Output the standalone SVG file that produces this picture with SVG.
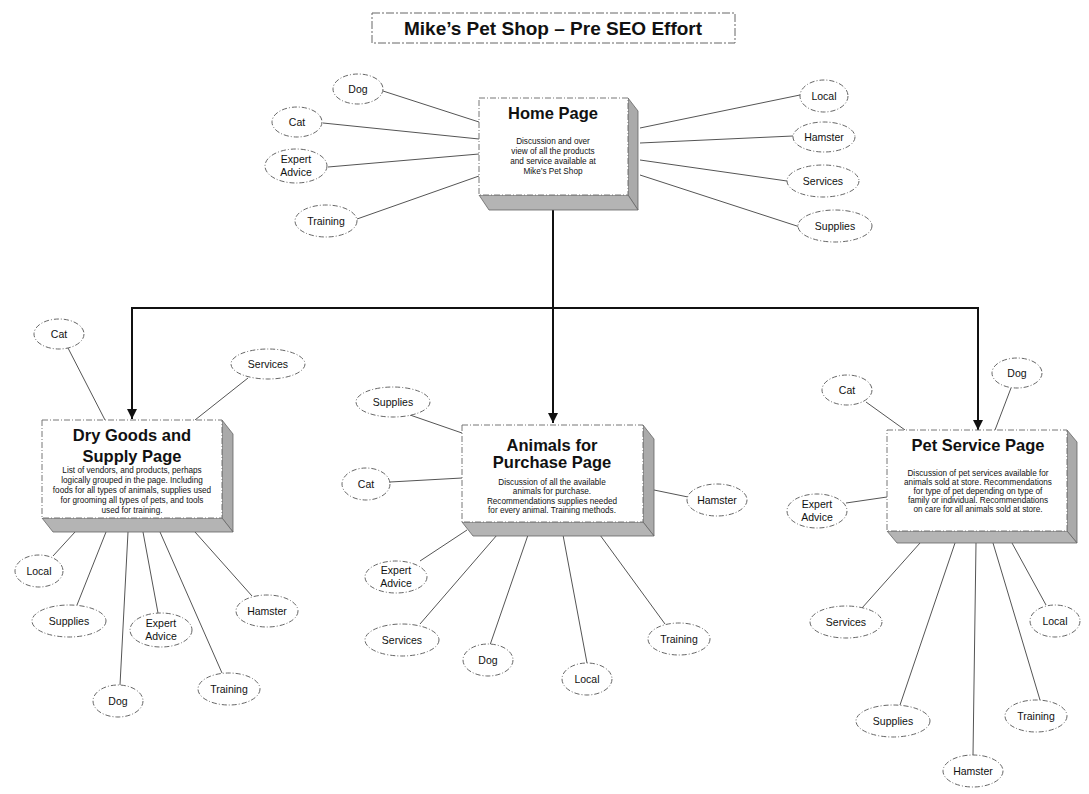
<svg xmlns="http://www.w3.org/2000/svg" width="1089" height="794" viewBox="0 0 1089 794">
<defs>
<marker id="arr" viewBox="0 0 10 10" refX="10" refY="5" markerWidth="5" markerHeight="5" orient="auto" markerUnits="strokeWidth">
<path d="M0,0 L10,5 L0,10 Z" fill="#111"/>
</marker>
</defs>
<style>
.ell{fill:#fff;stroke:#666;stroke-width:1;stroke-dasharray:5 2 1 2}
.lbl{font-family:"Liberation Sans",Arial,sans-serif;font-size:10.5px;fill:#111;text-anchor:middle}
.link{stroke:#555;stroke-width:1;fill:none}
.main{stroke:#111;stroke-width:2;fill:none}
.front{fill:#fff;stroke:#777;stroke-width:1;stroke-dasharray:6 2 1 2}
.side{fill:#aaa;stroke:#666;stroke-width:0.8}
.bot{fill:#b4b4b4;stroke:#666;stroke-width:0.8}
.ttl{font-family:"Liberation Sans",Arial,sans-serif;font-weight:bold;font-size:16.5px;fill:#111;text-anchor:middle}
.body{font-family:"Liberation Sans",Arial,sans-serif;font-size:8.2px;fill:#111;text-anchor:middle}
.head{font-family:"Liberation Sans",Arial,sans-serif;font-weight:bold;font-size:19px;fill:#111;text-anchor:middle}
</style>
<rect width="1089" height="794" fill="#fff"/>

<g id="title">
<rect x="372" y="13" width="363" height="30" fill="#fff" stroke="#666" stroke-width="1" stroke-dasharray="8 2 2 2"/>
<text class="head" x="553" y="35">Mike’s Pet Shop – Pre SEO Effort</text>
</g>

<g id="connectors">
<path class="main" d="M553,208 V423" marker-end="url(#arr)"/>
<path class="main" d="M132,308 H978"/>
<path class="main" d="M132,307 V419" marker-end="url(#arr)"/>
<path class="main" d="M978,307 V430" marker-end="url(#arr)"/>
<line class="link" x1="383" y1="91" x2="479" y2="122"/>
<line class="link" x1="323" y1="123" x2="479" y2="139"/>
<line class="link" x1="328" y1="167" x2="479" y2="154"/>
<line class="link" x1="357" y1="219" x2="479" y2="176"/>
<line class="link" x1="640" y1="128" x2="800" y2="95"/>
<line class="link" x1="640" y1="143" x2="793" y2="136"/>
<line class="link" x1="640" y1="160" x2="787" y2="181"/>
<line class="link" x1="640" y1="175" x2="800" y2="227"/>
<line class="link" x1="68" y1="348" x2="105" y2="420"/>
<line class="link" x1="248" y1="378" x2="195" y2="420"/>
<line class="link" x1="75" y1="532" x2="53" y2="556"/>
<line class="link" x1="106" y1="532" x2="77" y2="605"/>
<line class="link" x1="128" y1="532" x2="120" y2="685"/>
<line class="link" x1="143" y1="532" x2="158" y2="613"/>
<line class="link" x1="160" y1="532" x2="222" y2="673"/>
<line class="link" x1="195" y1="532" x2="252" y2="596"/>
<line class="link" x1="410" y1="415" x2="462" y2="433"/>
<line class="link" x1="390" y1="482" x2="462" y2="478"/>
<line class="link" x1="654" y1="490" x2="688" y2="497"/>
<line class="link" x1="467" y1="530" x2="420" y2="561"/>
<line class="link" x1="497" y1="535" x2="420" y2="624"/>
<line class="link" x1="528" y1="535" x2="490" y2="645"/>
<line class="link" x1="563" y1="535" x2="587" y2="663"/>
<line class="link" x1="600" y1="535" x2="665" y2="624"/>
<line class="link" x1="866" y1="402" x2="905" y2="430"/>
<line class="link" x1="1011" y1="388" x2="995" y2="430"/>
<line class="link" x1="846" y1="503" x2="887" y2="497"/>
<line class="link" x1="920" y1="543" x2="862" y2="608"/>
<line class="link" x1="955" y1="543" x2="900" y2="705"/>
<line class="link" x1="976" y1="543" x2="973" y2="755"/>
<line class="link" x1="993" y1="543" x2="1040" y2="700"/>
<line class="link" x1="1012" y1="543" x2="1046" y2="605"/>
</g>

<g id="home-page">
<polygon class="side" points="628,98 638,111 638,210 628,195"/>
<polygon class="bot" points="479,195 628,195 638,210 489,210"/>
<rect class="front" x="479" y="98" width="149" height="97"/>
<text class="ttl" x="553" y="119">Home Page</text>
<text class="body" x="553" y="144">Discussion and over</text>
<text class="body" x="553" y="154">view of all the products</text>
<text class="body" x="553" y="164">and service available at</text>
<text class="body" x="553" y="174">Mike’s Pet Shop</text>
</g>

<g id="dry-goods-page">
<polygon class="side" points="222,420 233,434 233,532 222,518"/>
<polygon class="bot" points="42,518 222,518 233,532 53,532"/>
<rect class="front" x="42" y="420" width="180" height="98"/>
<text class="ttl" x="132" y="441">Dry Goods and</text>
<text class="ttl" x="132" y="462">Supply Page</text>
<text class="body" x="132" y="473">List of vendors, and products, perhaps</text>
<text class="body" x="132" y="483">logically grouped in the page. Including</text>
<text class="body" x="132" y="493">foods for all types of animals, supplies used</text>
<text class="body" x="132" y="503">for grooming all types of pets, and tools</text>
<text class="body" x="132" y="513">used for training.</text>
</g>

<g id="animals-page">
<polygon class="side" points="643,425 654,439 654,536 643,522"/>
<polygon class="bot" points="462,522 643,522 654,536 473,536"/>
<rect class="front" x="462" y="425" width="181" height="97"/>
<text class="ttl" x="552" y="451">Animals for</text>
<text class="ttl" x="552" y="468">Purchase Page</text>
<text class="body" x="552" y="485">Discussion of all the available</text>
<text class="body" x="552" y="494">animals for purchase.</text>
<text class="body" x="552" y="504">Recommendations supplies needed</text>
<text class="body" x="552" y="513">for every animal. Training methods.</text>
</g>

<g id="pet-service-page">
<polygon class="side" points="1067,430 1077,442 1077,543 1067,531"/>
<polygon class="bot" points="887,531 1067,531 1077,543 897,543"/>
<rect class="front" x="887" y="430" width="180" height="101"/>
<text class="ttl" x="978" y="451">Pet Service Page</text>
<text class="body" x="978" y="476">Discussion of pet services available for</text>
<text class="body" x="978" y="485">animals sold at store. Recommendations</text>
<text class="body" x="978" y="494">for type of pet depending on type of</text>
<text class="body" x="978" y="503">family or individual. Recommendations</text>
<text class="body" x="978" y="512">on care for all animals sold at store.</text>
</g>

<g id="home-dog"><ellipse class="ell" cx="358" cy="89" rx="25" ry="15"/><text class="lbl" x="358" y="93">Dog</text></g>
<g id="home-cat"><ellipse class="ell" cx="297" cy="122" rx="25" ry="15"/><text class="lbl" x="297" y="126">Cat</text></g>
<g id="home-expert"><ellipse class="ell" cx="296" cy="166" rx="31" ry="17"/><text class="lbl" x="296" y="163">Expert</text><text class="lbl" x="296" y="176">Advice</text></g>
<g id="home-training"><ellipse class="ell" cx="326" cy="221" rx="31" ry="16"/><text class="lbl" x="326" y="225">Training</text></g>
<g id="home-local"><ellipse class="ell" cx="824" cy="96" rx="24" ry="16"/><text class="lbl" x="824" y="100">Local</text></g>
<g id="home-hamster"><ellipse class="ell" cx="824" cy="137" rx="31" ry="15"/><text class="lbl" x="824" y="141">Hamster</text></g>
<g id="home-services"><ellipse class="ell" cx="823" cy="181" rx="36" ry="16"/><text class="lbl" x="823" y="185">Services</text></g>
<g id="home-supplies"><ellipse class="ell" cx="835" cy="226" rx="37" ry="16"/><text class="lbl" x="835" y="230">Supplies</text></g>

<g id="dry-cat"><ellipse class="ell" cx="59" cy="334" rx="25" ry="15"/><text class="lbl" x="59" y="338">Cat</text></g>
<g id="dry-services"><ellipse class="ell" cx="268" cy="364" rx="37" ry="15"/><text class="lbl" x="268" y="368">Services</text></g>
<g id="dry-local"><ellipse class="ell" cx="39" cy="571" rx="24" ry="16"/><text class="lbl" x="39" y="575">Local</text></g>
<g id="dry-supplies"><ellipse class="ell" cx="69" cy="621" rx="37" ry="16"/><text class="lbl" x="69" y="625">Supplies</text></g>
<g id="dry-dog"><ellipse class="ell" cx="118" cy="701" rx="25" ry="16"/><text class="lbl" x="118" y="705">Dog</text></g>
<g id="dry-expert"><ellipse class="ell" cx="161" cy="630" rx="31" ry="17"/><text class="lbl" x="161" y="627">Expert</text><text class="lbl" x="161" y="640">Advice</text></g>
<g id="dry-training"><ellipse class="ell" cx="229" cy="689" rx="31" ry="16"/><text class="lbl" x="229" y="693">Training</text></g>
<g id="dry-hamster"><ellipse class="ell" cx="267" cy="611" rx="31" ry="16"/><text class="lbl" x="267" y="615">Hamster</text></g>

<g id="ani-supplies"><ellipse class="ell" cx="393" cy="402" rx="37" ry="15"/><text class="lbl" x="393" y="406">Supplies</text></g>
<g id="ani-cat"><ellipse class="ell" cx="366" cy="484" rx="24" ry="16"/><text class="lbl" x="366" y="488">Cat</text></g>
<g id="ani-hamster"><ellipse class="ell" cx="717" cy="500" rx="30" ry="16"/><text class="lbl" x="717" y="504">Hamster</text></g>
<g id="ani-expert"><ellipse class="ell" cx="396" cy="577" rx="31" ry="16"/><text class="lbl" x="396" y="574">Expert</text><text class="lbl" x="396" y="587">Advice</text></g>
<g id="ani-services"><ellipse class="ell" cx="402" cy="640" rx="37" ry="16"/><text class="lbl" x="402" y="644">Services</text></g>
<g id="ani-dog"><ellipse class="ell" cx="488" cy="660" rx="25" ry="16"/><text class="lbl" x="488" y="664">Dog</text></g>
<g id="ani-local"><ellipse class="ell" cx="587" cy="679" rx="25" ry="16"/><text class="lbl" x="587" y="683">Local</text></g>
<g id="ani-training"><ellipse class="ell" cx="679" cy="639" rx="31" ry="16"/><text class="lbl" x="679" y="643">Training</text></g>

<g id="pet-cat"><ellipse class="ell" cx="847" cy="390" rx="25" ry="15"/><text class="lbl" x="847" y="394">Cat</text></g>
<g id="pet-dog"><ellipse class="ell" cx="1017" cy="373" rx="25" ry="15"/><text class="lbl" x="1017" y="377">Dog</text></g>
<g id="pet-expert"><ellipse class="ell" cx="817" cy="511" rx="30" ry="17"/><text class="lbl" x="817" y="508">Expert</text><text class="lbl" x="817" y="521">Advice</text></g>
<g id="pet-services"><ellipse class="ell" cx="846" cy="622" rx="36" ry="16"/><text class="lbl" x="846" y="626">Services</text></g>
<g id="pet-supplies"><ellipse class="ell" cx="893" cy="721" rx="37" ry="16"/><text class="lbl" x="893" y="725">Supplies</text></g>
<g id="pet-hamster"><ellipse class="ell" cx="973" cy="771" rx="30" ry="16"/><text class="lbl" x="973" y="775">Hamster</text></g>
<g id="pet-training"><ellipse class="ell" cx="1036" cy="716" rx="31" ry="16"/><text class="lbl" x="1036" y="720">Training</text></g>
<g id="pet-local"><ellipse class="ell" cx="1055" cy="621" rx="25" ry="16"/><text class="lbl" x="1055" y="625">Local</text></g>
</svg>
